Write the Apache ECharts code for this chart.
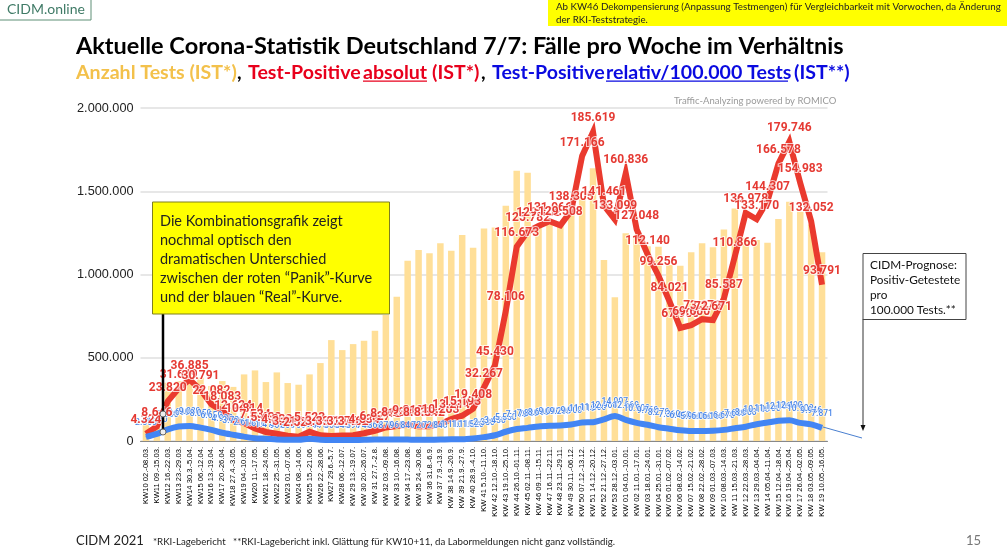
<!DOCTYPE html>
<html><head><meta charset="utf-8">
<style>html,body{margin:0;padding:0;background:#fff}#c{width:1007px;height:553px}</style>
<script src="https://cdn.jsdelivr.net/npm/echarts@6/dist/echarts.min.js"></script>
</head><body><div id="c"></div>
<script>
const weeks = ["KW10 02.-08.03.","KW11 09.-15.03.","KW12 16.-22.03.","KW13 23.-29.03.","KW14 30.3.-5.04.","KW15 06.-12.04.","KW16 13.-19.04.","KW17 20.-26.04.","KW18 27.4.-3.05.","KW19 04.-10.05.","KW20 11.-17.05.","KW21 18.-24.05.","KW22 25.-31.05.","KW23 01.-07.06.","KW24 08.-14.06.","KW25 15.-21.06.","KW26 22.-28.06.","KW27 29.6.-5.7.","KW28 06.-12.07.","KW 29 13.-19.07.","KW 30 20.-26.07.","KW 31 27.7.-2.8.","KW 32 03.-09.08.","KW 33 10.-16.08.","KW 34 17.-23.08.","KW 35 24.-30.08.","KW 36 31.8.-6.9.","KW 37 7.9.-13.9.","KW 38 14.9.-20.9.","KW 39 21.9.-27.9.","KW 40 28.9.-4.10.","KW 41 5.10.-11.10.","KW 42 12.10.-18.10.","KW 43 19.10.-25.10.","KW 44 26.10.-01.11.","KW 45 02.11.-08.11.","KW 46 09.11.-15.11.","KW 47 16.11.-22.11.","KW 48 23.11.-29.11.","KW 49 30.11.-06.12.","KW 50 07.12.-13.12.","KW 51 14.12.-20.12.","KW 52 21.12.-27.12.","KW 53 28.12.-03.01.","KW 01 04.01.-10.01.","KW 02 11.01.-17.01.","KW 03 18.01.-24.01.","KW 04 25.01.-31.01.","KW 05 01.02.-07.02.","KW 06 08.02.-14.02.","KW 07 15.02.-21.02.","KW 08 22.02.-28.02.","KW 09 01.03.-07.03.","KW 10 08.03.-14.03.","KW 11 15.03.-21.03.","KW 12 22.03.-28.03.","KW 13 29.03.-04.04.","KW 14 05.04.-11.04.","KW 15 12.04.-18.04.","KW 16 19.04.-25.04.","KW 17 26.04.-02.05.","KW 18 03.05.-09.05.","KW 19 10.05.-16.05."];
const tests = [100000,130000,350000,360000,410000,380000,330000,360000,325000,400000,424000,354000,412000,348000,338000,400000,468000,606000,546000,582000,602000,662000,757000,867000,1083000,1147000,1127000,1187000,1143000,1237000,1161000,1277000,1282000,1413000,1623000,1611000,1290000,1327000,1297000,1370000,1458000,1638000,1087000,863000,1247000,1237000,1170000,1167000,1057000,1053000,1133000,1187000,1163000,1271000,1397000,1220000,1207000,1191000,1333000,1437000,1377000,1300000,1133000];
const positiveAbs = [4324,8646,23820,31649,36885,30791,22082,18083,12624,10814,7534,5433,4333,3112,2521,5523,3437,3014,3276,3462,4634,6127,8112,8933,9812,8835,8842,10263,13214,15193,19408,32267,45430,78106,116673,125782,129102,131966,129508,138305,171166,185619,141461,133099,160836,127048,112140,99256,84021,67900,69600,73172,72671,85587,110866,136978,133170,144307,166578,179746,154983,132052,93791];
const positiveRel = [2500,4300,7000,8690,9080,8050,6650,4930,3720,2610,1610,1410,900,800,700,1300,770,560,540,590,740,860,870,960,840,720,720,840,1110,1110,1520,2330,3450,5550,7170,7880,8690,9090,9290,9900,11110,11300,12960,14997,12669,10900,9760,8270,7360,6450,5960,6060,6160,6670,7680,8600,10100,11100,12100,12400,10900,9946,7871];
const yTicks = [0,500000,1000000,1500000,2000000];
const deNum = v => String(v).replace(/\B(?=(\d{3})+(?!\d))/g,'.');
const sans = 'Lato';
const chart = echarts.init(document.getElementById('c'),null,{renderer:'canvas'});
function seg(x,t,c){return {type:'text',x:x,y:63,z:20,style:{text:t,fill:c,font:'bold 19.6px '+sans}};}
function para(x,y,lines,size,lh,c){return {type:'text',x:x,y:y,z:30,style:{text:lines.join('\n'),fill:c,font:size+'px '+sans,lineHeight:lh}};}
chart.setOption({
  animation:false,
  backgroundColor:'#fff',
  grid:{left:140.5,right:179.5,top:108,bottom:112,containLabel:false},
  xAxis:{type:'category',data:weeks,
    axisTick:{show:false},
    axisLine:{lineStyle:{color:'#888',width:1}},
    axisLabel:{interval:0,rotate:90,fontFamily:'Liberation Sans',fontSize:7.6,color:'#000',margin:6}},
  yAxis:[
    {type:'value',min:yTicks[0],max:yTicks[4],interval:yTicks[1],
     axisLine:{show:false},axisTick:{show:false},
     splitLine:{lineStyle:{color:'#dfdfdf',width:1.5}},
     axisLabel:{formatter:deNum,fontFamily:'Liberation Sans',fontSize:12.7,color:'#222',margin:7}},
    {type:'value',min:0,max:200000,interval:50000,show:false,splitLine:{show:false}}
  ],
  series:[
    {name:'Anzahl Tests',type:'bar',data:tests,barWidth:6.5,itemStyle:{color:'#FFDF98'},z:1},
    {name:'Test-Positive absolut',type:'line',yAxisIndex:1,data:positiveAbs,showSymbol:false,symbol:'none',z:3,
     lineStyle:{color:'#EA3A2E',width:6,join:'miter',miterLimit:10,cap:'butt'},
     itemStyle:{color:'#EA3A2E'}},
    {name:'Test-Positive relativ',type:'line',yAxisIndex:1,data:positiveRel,showSymbol:true,showAllSymbol:true,symbol:'circle',symbolSize:1,smooth:0.3,z:4,
     lineStyle:{color:'#4285F4',width:6,cap:'butt'},
     itemStyle:{color:'#4285F4'},
     label:{show:true,position:'top',distance:9,formatter:p=>deNum(p.value),fontFamily:'Roboto',fontWeight:500,fontSize:8.5,color:'#4A86E8',textBorderColor:'rgba(255,255,255,0.75)',textBorderWidth:1.5},
     labelLayout:{hideOverlap:false}},
    {name:'Test-Positive absolut Werte',type:'line',yAxisIndex:1,data:positiveAbs,showSymbol:true,showAllSymbol:true,symbol:'circle',symbolSize:1,z:5,
     lineStyle:{width:0,opacity:0},
     itemStyle:{color:'transparent'},
     label:{show:true,position:'top',distance:7,formatter:p=>deNum(p.value),fontFamily:'Roboto',fontWeight:'bold',fontSize:12,color:'#E53A33',textBorderColor:'rgba(255,255,255,0.75)',textBorderWidth:2},
     labelLayout:{hideOverlap:false}}
  ],
  graphic:[
    {type:'rect',z:15,shape:{x:-2,y:-2,width:93,height:22},style:{fill:'#fff',stroke:'#5E8F77',lineWidth:1}},
    {type:'text',x:7,y:2,z:16,style:{text:'CIDM.online',fill:'#3F7A66',font:'14px '+sans}},
    {type:'rect',z:15,shape:{x:548,y:-2,width:462,height:28},style:{fill:'#FFFF00'}},
    para(556,0,['Ab KW46 Dekompensierung (Anpassung Testmengen) für Vergleichbarkeit mit Vorwochen, da Änderung','der RKI-Teststrategie.'],9.75,13,'#222'),
    {type:'text',x:76,y:34,z:20,style:{text:'Aktuelle Corona-Statistik Deutschland 7/7: Fälle pro Woche im Verhältnis',fill:'#000',font:'bold 23.5px '+sans}},
    seg(76,'Anzahl Tests (IST*)','#F3C14B'),seg(237,',','#000'),
    seg(248,'Test-Positive','#E8001C'),seg(363,'absolut','#E8001C'),seg(432,'(IST*)','#E8001C'),seg(481,',','#000'),
    seg(492,'Test-Positive','#0A0AE0'),seg(606,'relativ/100.000 Tests','#0A0AE0'),seg(794,'(IST**)','#0A0AE0'),
    {type:'rect',z:20,shape:{x:363,y:80.5,width:64,height:1.3},style:{fill:'#E8001C'}},
    {type:'rect',z:20,shape:{x:606,y:80.5,width:182,height:1.3},style:{fill:'#0A0AE0'}},
    {type:'text',x:674,y:96,z:20,style:{text:'Traffic-Analyzing powered by ROMICO',fill:'#9a9a9a',font:'9.5px '+sans}},
    {type:'line',z:10,shape:{x1:163,y1:314,x2:163,y2:432},style:{stroke:'#000',lineWidth:2.5}},
    {type:'circle',z:11,shape:{cx:163,cy:414,r:3},style:{fill:'#eee',stroke:'#666',lineWidth:1}},
    {type:'circle',z:11,shape:{cx:163,cy:432,r:3},style:{fill:'#eee',stroke:'#666',lineWidth:1}},
    {type:'rect',z:25,shape:{x:152.5,y:202,width:237,height:112},style:{fill:'#FFFF00',stroke:'#7F7F20',lineWidth:1}},
    para(160,212,['Die Kombinationsgrafik zeigt','nochmal optisch den','dramatischen Unterschied','zwischen der roten “Panik”-Kurve','und der blauen “Real”-Kurve.'],14.5,19,'#222'),
    {type:'rect',z:25,shape:{x:863,y:253.5,width:103,height:66},style:{fill:'#fff',stroke:'#444',lineWidth:1}},
    para(870,258,['CIDM-Prognose:','Positiv-Getestete','pro','100.000 Tests.**'],11.8,15,'#111'),
    {type:'line',z:10,shape:{x1:863,y1:319,x2:863,y2:428},style:{stroke:'#333',lineWidth:1}},
    {type:'polygon',z:10,shape:{points:[[860.5,425],[865.5,425],[863,431]]},style:{fill:'#111'}},
    {type:'line',z:10,shape:{x1:823,y1:427,x2:862,y2:438},style:{stroke:'#4A7FD0',lineWidth:1}},
    {type:'text',x:76,y:534,z:20,style:{text:'CIDM 2021',fill:'#222',font:'13px '+sans}},
    {type:'text',x:153,y:537,z:20,style:{text:'*RKI-Lagebericht   **RKI-Lagebericht inkl. Glättung für KW10+11, da Labormeldungen nicht ganz vollständig.',fill:'#222',font:'9.7px '+sans}},
    {type:'text',x:966,y:534,z:20,style:{text:'15',fill:'#777',font:'13px '+sans}}
  ]
});
</script></body></html>
